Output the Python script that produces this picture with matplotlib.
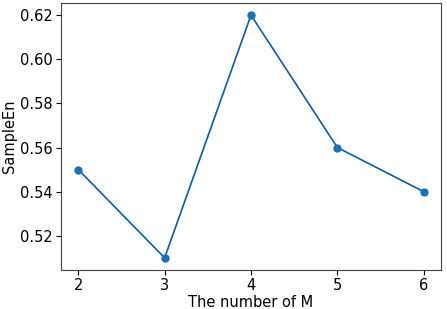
import matplotlib
matplotlib.use("Agg")
import matplotlib.pyplot as plt

m_values = [2, 3, 4, 5, 6]
sample_en = [0.55, 0.51, 0.62, 0.56, 0.54]

fig = plt.figure(figsize=(4.47, 3.09), dpi=100)
ax = fig.add_axes([61 / 447, 39 / 309, 380 / 447, 267 / 309])

ax.plot(m_values, sample_en, color='#0a5ca8', lw=1.2,
        marker='o', markersize=5, markerfacecolor='#1f6fb4', markeredgecolor='#1f6fb4')

ax.set_xticks(m_values)
ax.set_yticks([0.52, 0.54, 0.56, 0.58, 0.60, 0.62])
ax.tick_params(labelsize=10.5, pad=2.5)
ax.set_xlabel("The number of M", fontsize=10.5, labelpad=1)
ax.set_ylabel("SampleEn", fontsize=10.5, labelpad=2)
for s in ax.spines.values():
    s.set_color('#444444')

fig.savefig("out.png", dpi=100)
